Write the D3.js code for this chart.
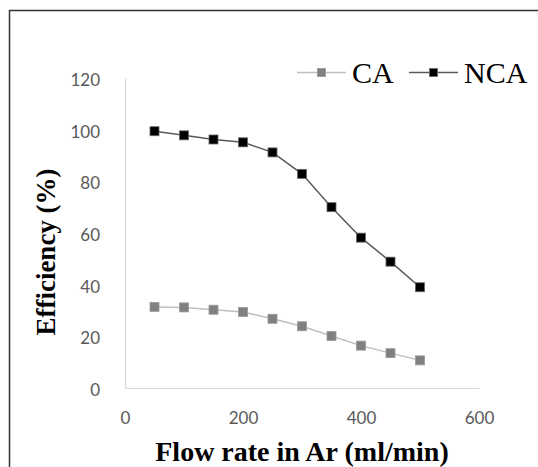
<!DOCTYPE html>
<html><head><meta charset="utf-8">
<script src="https://cdn.jsdelivr.net/npm/d3@7/dist/d3.min.js"></script>
<style>body{margin:0;background:#fff}svg{display:block}</style>
</head><body>
<script>
const flowRates = [50,100,150,200,250,300,350,400,450,500];
const caValues  = [31.4,31.2,30.3,29.4,26.8,23.9,20.1,16.4,13.5,10.7];
const ncaValues = [99.4,97.8,96.2,95.1,91.2,82.9,70.0,58.2,48.9,39.0];
const xTicks = [0,200,400,600];
const yTicks = [0,20,40,60,80,100,120];
const seriesNames = ["CA","NCA"];

const W=538,H=467;
const svg=d3.select("body").append("svg").attr("width",W).attr("height",H);
svg.append("rect").attr("width",W).attr("height",H).attr("fill","#fff");
// frame
svg.append("path").attr("d","M9.5,467 V10.5 H538").attr("fill","none").attr("stroke","#333").attr("stroke-width",1.5);

const x=d3.scaleLinear().domain([0,600]).range([125,479]);
const y=d3.scaleLinear().domain([0,120]).range([388,78]);

const tickFont="Lato, 'Open Sans', sans-serif";
const ax=svg.append("g").attr("transform","translate(0,388)")
  .call(d3.axisBottom(x).tickValues(xTicks).tickSize(0).tickPadding(24));
ax.select(".domain").attr("stroke","#d9d9d9").attr("stroke-width",1.2);
ax.selectAll("text").attr("font-family",tickFont).attr("font-size",17).attr("fill","#595959");

const ay=svg.append("g").attr("transform","translate(125,0)")
  .call(d3.axisLeft(y).tickValues(yTicks).tickSize(0).tickPadding(25));
ay.select(".domain").attr("stroke","#d9d9d9").attr("stroke-width",1.2);
ay.selectAll("text").attr("font-family",tickFont).attr("font-size",17).attr("fill","#595959").attr("dy","0.45em");

const styles=[
  {line:"#bfbfbf",fill:"#808080",stroke:"#9a9a9a"},
  {line:"#595959",fill:"#000",stroke:"#666"}
];
const data=[caValues,ncaValues];
const line=d3.line().x((d,i)=>x(flowRates[i])).y(d=>y(d));
data.forEach((vals,si)=>{
  const s=styles[si];
  svg.append("path").datum(vals).attr("d",line).attr("fill","none").attr("stroke",s.line).attr("stroke-width",1.5);
  svg.selectAll(null).data(vals).enter().append("rect")
    .attr("x",(d,i)=>x(flowRates[i])-4.5).attr("y",d=>y(d)-4.5)
    .attr("width",9).attr("height",9).attr("fill",s.fill).attr("stroke",s.stroke).attr("stroke-width",0.8);
});

// legend
const legX=[297,409];
seriesNames.forEach((n,i)=>{
  const s=styles[i];
  const g=svg.append("g");
  g.append("line").attr("x1",legX[i]).attr("x2",legX[i]+49).attr("y1",72.5).attr("y2",72.5).attr("stroke",s.line).attr("stroke-width",1.5);
  g.append("rect").attr("x",legX[i]+24.5-4).attr("y",68.5).attr("width",8).attr("height",8).attr("fill",s.fill).attr("stroke",s.stroke).attr("stroke-width",0.8);
  g.append("text").attr("x",legX[i]+55).attr("y",83).attr("font-family","'Liberation Serif', 'Times New Roman', serif").attr("font-size",30).attr("fill","#000").text(n);
});

// axis titles
svg.append("text").attr("x",302).attr("y",461).attr("text-anchor","middle")
  .attr("font-family","'Liberation Serif', 'Times New Roman', serif").attr("font-weight","bold").attr("font-size",28).text("Flow rate in Ar (ml/min)");
svg.append("text").attr("transform","translate(55,252) rotate(-90)").attr("text-anchor","middle")
  .attr("font-family","'Liberation Serif', 'Times New Roman', serif").attr("font-weight","bold").attr("font-size",27).text("Efficiency (%)");
</script>
</body></html>
